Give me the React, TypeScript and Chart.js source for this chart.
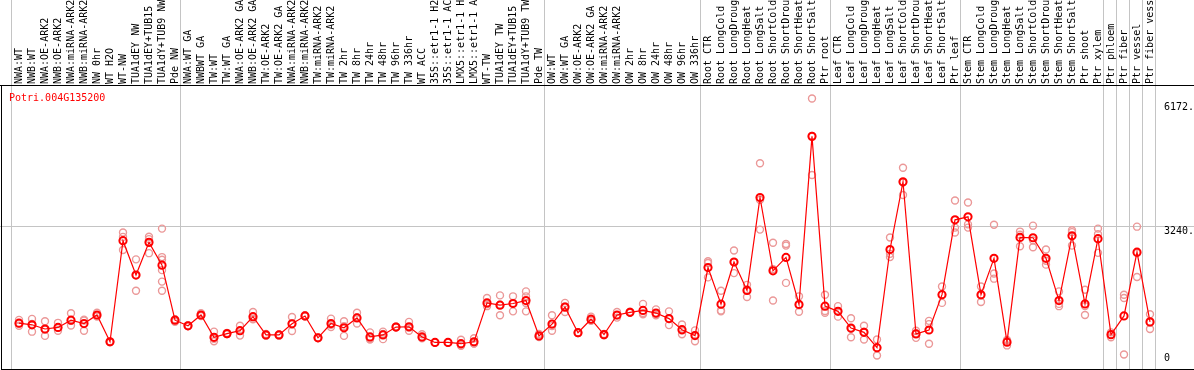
import React, { useEffect, useRef } from "react";
import { Chart, registerables } from "chart.js";

Chart.register(...registerables);

const geneId = "Potri.004G135200";

const labels: string[] = [
  "NWA:WT", "NWB:WT", "NWA:OE-ARK2", "NWB:OE-ARK2", "NWA:miRNA-ARK2", "NWB:miRNA-ARK2", "NW 0hr", "WT H2O", "WT-NW", "TUA1dEY NW", "TUA1dEY+TUB15 NW", "TUA1dY+TUB9 NW", "Pde NW",
  "NWA:WT GA", "NWBWT GA", "TW:WT", "TW:WT GA", "NWA:OE-ARK2 GA", "NWB:OE-ARK2 GA", "TW:OE-ARK2", "TW:OE-ARK2 GA", "NWA:miRNA-ARK2", "NWB:miRNA-ARK2", "TW:miRNA-ARK2", "TW:miRNA-ARK2", "TW 2hr", "TW 8hr", "TW 24hr", "TW 48hr", "TW 96hr", "TW 336hr", "WT ACC", "35S::etr1-1 H2O", "35S::etr1-1 ACC", "LMX5::etr1-1 H2O", "LMX5::etr1-1 ACC", "WT-TW", "TUA1dEY TW", "TUA1dEY+TUB15 TW", "TUA1dY+TUB9 TW", "Pde TW",
  "OW:WT", "OW:WT GA", "OW:OE-ARK2", "OW:OE-ARK2 GA", "OW:miRNA-ARK2", "OW:miRNA-ARK2", "OW 2hr", "OW 8hr", "OW 24hr", "OW 48hr", "OW 96hr", "OW 336hr",
  "Root CTR", "Root LongCold", "Root LongDrought", "Root LongHeat", "Root LongSalt", "Root ShortCold", "Root ShortDrought", "Root ShortHeat", "Root ShortSalt", "Ptr root",
  "Leaf CTR", "Leaf LongCold", "Leaf LongDrought", "Leaf LongHeat", "Leaf LongSalt", "Leaf ShortCold", "Leaf ShortDrought", "Leaf ShortHeat", "Leaf ShortSalt", "Ptr leaf",
  "Stem CTR", "Stem LongCold", "Stem LongDrought", "Stem LongHeat", "Stem LongSalt", "Stem ShortCold", "Stem ShortDrought", "Stem ShortHeat", "Stem ShortSalt", "Ptr shoot", "Ptr xylem",
  "Ptr phloem", "Ptr fiber", "Ptr vessel", "Ptr fiber vessel",
];

// index of the first category of every group (last entry = end)
const groupStarts: number[] = [0, 13, 41, 53, 63, 73, 84, 85, 86, 87, 88];

const means: number[] = [
  1008, 970, 873, 909, 1076, 999, 1195, 580, 2903, 2113, 2864, 2339, 1076,
  947, 1195, 683, 767, 834, 1157, 737, 737, 992, 1173, 670, 999, 902, 1128, 692, 737, 918, 925, 692, 564, 564, 535, 580, 1473, 1421, 1459, 1527, 715,
  986, 1376, 789, 1098, 744, 1195, 1256, 1301, 1240, 1112, 857, 722,
  2285, 1443, 2413, 1759, 3895, 2210, 2519, 1437, 5300, 1398,
  1279, 895, 796, 444, 2700, 4256, 760, 850, 1662, 3383,
  3451, 1662, 2497, 571, 2977, 2970, 2497, 1527, 3015, 1450, 2948,
  744, 1173, 2639, 1037,
];

const replicates: number[][] = [
  [1083, 1000, 947], [1105, 990, 812], [1053, 860, 715], [1015, 900, 834], [1234, 1060, 954], [1089, 1070, 834], [1247, 1190, 1157], [590, 575, 570], [3090, 2990, 2690], [2474, 2113, 1752], [2993, 2939, 2616], [3180, 2526, 2466, 2226, 1962, 1752], [1098, 1080, 1040],
  [960, 940, 940], [1234, 1180, 1170], [812, 650, 593], [780, 760, 760], [947, 830, 722], [1263, 1110, 1098], [760, 730, 720], [750, 740, 720], [1150, 1000, 828], [1190, 1170, 1160], [680, 665, 665], [1112, 970, 918], [1053, 940, 715], [1247, 1140, 999], [796, 650, 631], [812, 760, 640], [930, 910, 910], [1037, 900, 834], [751, 680, 660], [570, 560, 560], [570, 560, 560], [625, 500, 490], [661, 540, 540], [1585, 1440, 1398], [1646, 1430, 1189], [1624, 1470, 1279], [1737, 1624, 1470, 1279], [760, 700, 690],
  [1189, 940, 834], [1473, 1390, 1263], [800, 780, 780], [1157, 1080, 1060], [760, 740, 730], [1263, 1190, 1135], [1270, 1250, 1245], [1450, 1240, 1211], [1324, 1210, 1190], [1279, 1100, 963], [977, 840, 751], [841, 730, 593],
  [2430, 2390, 2059], [1752, 1300, 1279], [2677, 2410, 2158], [1888, 1780, 1608], [4684, 3840, 3157], [2857, 2250, 1527], [2826, 2790, 1933], [1624, 1420, 1270], [6172, 5310, 4414], [1662, 1286, 1247],
  [1398, 1280, 1157], [1121, 880, 683], [947, 810, 631], [631, 440, 264], [2977, 2600, 2526], [4578, 4240, 3953], [834, 770, 670], [1060, 986, 535], [1849, 1660, 1473], [3827, 3203, 3090],
  [3782, 3277, 3203], [1849, 1640, 1495], [3270, 2149, 2030], [620, 600, 496], [3112, 3040, 2774], [3248, 2910, 2751], [2700, 2440, 2352], [1737, 1450, 1398], [3142, 3100, 2790], [1775, 1400, 1195], [3180, 3052, 2623],
  [796, 750, 683], [1662, 1585, 286], [3225, 2620, 2068], [1211, 1030, 873],
];

const dataMax = 6172;
const yMax = dataMax * 1.05;
const yMid = yMax / 2;
const yTickLabels: string[] = ["6172.", "3240.", "0"];

const FONT = '10px "DejaVu Sans Mono", "Liberation Mono", monospace';

const framePlugin = {
  id: "frameAndText",
  beforeDatasetsDraw(chart: any) {
    const { ctx, width } = chart;
    const x = chart.scales.x;
    const y = chart.scales.y;
    const top = Math.round(chart.chartArea.top);
    const bottomLine = chart.height - 4;
    ctx.save();
    ctx.fillStyle = "#c4c4c4";
    for (const k of groupStarts) {
      const px = Math.round(x.getPixelForValue(k) - 8);
      ctx.fillRect(px, 0, 1, bottomLine);
    }
    const gy = Math.floor(y.getPixelForValue(yMid));
    ctx.fillRect(0, gy, width, 1);
    ctx.fillStyle = "#000";
    ctx.fillRect(0, top, width, 1);
    ctx.fillRect(1, top, 1, bottomLine - top);
    ctx.fillRect(1, bottomLine, width, 1);
    ctx.restore();
  },
  afterDraw(chart: any) {
    const { ctx } = chart;
    const x = chart.scales.x;
    const y = chart.scales.y;
    const top = Math.round(chart.chartArea.top);
    ctx.save();
    ctx.font = FONT;
    ctx.textAlign = "left";
    ctx.textBaseline = "alphabetic";
    ctx.fillStyle = "#000";
    labels.forEach((lab, i) => {
      const px = x.getPixelForValue(i);
      ctx.save();
      ctx.translate(Math.round(px) + 3, top - 1);
      ctx.rotate(-Math.PI / 2);
      ctx.fillText(lab, 0, 0);
      ctx.restore();
    });
    // value labels on the right
    const lx = Math.round(x.right) + 7;
    ctx.fillText(yTickLabels[0], lx, Math.round(y.getPixelForValue(dataMax)) + 12);
    ctx.fillText(yTickLabels[1], lx, Math.round(y.getPixelForValue(yMid)) + 8);
    ctx.fillText(yTickLabels[2], lx, Math.round(y.getPixelForValue(0)) - 6);
    // gene title
    ctx.fillStyle = "#ff0000";
    ctx.fillText(geneId, 9, top + 16);
    ctx.restore();
  },
};

export default function App() {
  const ref = useRef<HTMLCanvasElement | null>(null);

  useEffect(() => {
    if (!ref.current) return;
    const meanPoints = means.map((v, i) => ({ x: i, y: v }));
    const repPoints: { x: number; y: number }[] = [];
    replicates.forEach((arr, i) => arr.forEach((v) => repPoints.push({ x: i, y: v })));

    const chart = new Chart(ref.current, {
      type: "line",
      data: {
        datasets: [
          {
            label: "mean",
            data: meanPoints,
            borderColor: "#ff0000",
            borderWidth: 1.2,
            pointRadius: 3.6,
            pointBorderWidth: 2,
            pointBorderColor: "#ff0000",
            pointBackgroundColor: "rgba(0,0,0,0)",
            tension: 0,
            order: 0,
          },
          {
            label: "replicates",
            data: repPoints,
            showLine: false,
            pointRadius: 3.5,
            pointBorderWidth: 1.4,
            pointBorderColor: "#eb9898",
            pointBackgroundColor: "rgba(0,0,0,0)",
            order: 1,
          },
        ],
      },
      options: {
        responsive: false,
        animation: false,
        devicePixelRatio: 1,
        events: [],
        layout: { padding: { left: 12.5, right: 37.5, top: 85, bottom: 1 } },
        scales: {
          x: { type: "linear", min: -0.5, max: labels.length - 0.5, display: false },
          y: { type: "linear", min: 0, max: yMax, display: false },
        },
        plugins: {
          legend: { display: false },
          tooltip: { enabled: false },
        },
      },
      plugins: [framePlugin],
    } as any);
    return () => chart.destroy();
  }, []);

  return (
    <div style={{ position: "fixed", left: 0, top: 0, width: 1194, height: 370, overflow: "hidden", background: "#fff" }}>
      <canvas ref={ref} width={1194} height={373} style={{ display: "block" }} />
    </div>
  );
}
